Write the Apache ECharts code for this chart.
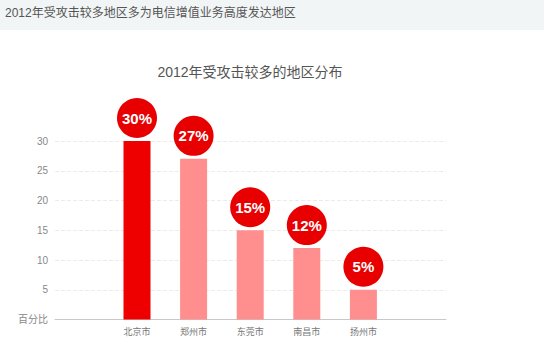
<!DOCTYPE html>
<html>
<head>
<meta charset="utf-8">
<script src="https://cdn.jsdelivr.net/npm/echarts@6/dist/echarts.min.js"></script>
<style>
html,body{margin:0;padding:0;background:#fff;}
#main{width:544px;height:357px;}
</style>
</head>
<body>
<div id="main"></div>
<script>
var headerText = '2012年受攻击较多地区多为电信增值业务高度发达地区';
var chartTitle = '2012年受攻击较多的地区分布';
var categories = ['北京市', '郑州市', '东莞市', '南昌市', '扬州市'];
var values = [30, 27, 15, 12, 5];
var yTicks = [0, 5, 10, 15, 20, 25, 30];
var zeroLabel = '百分比';

var FONT = '"Liberation Sans", "Noto Sans CJK SC", sans-serif';
var chart = echarts.init(document.getElementById('main'), null, {renderer: 'svg'});

var barData = values.map(function (v, i) {
  return {
    value: v,
    itemStyle: {color: i === 0 ? '#ee0000' : '#ff8e8e'}
  };
});

chart.setOption({
  animation: false,
  backgroundColor: '#fff',
  graphic: [
    {type: 'rect', left: 0, top: 0, z: -1,
      shape: {width: 544, height: 30}, style: {fill: '#f2f5f6'}},
    {type: 'text', x: 5, y: 13, z: 10,
      style: {text: headerText, fill: '#555', font: '12px ' + FONT,
        textVerticalAlign: 'middle'}},
    {type: 'text', x: 250, y: 72, z: 10,
      style: {text: chartTitle, fill: '#555', font: '14px ' + FONT,
        textAlign: 'center', textVerticalAlign: 'middle'}}
  ],
  grid: [
    {left: 55, right: 98, top: 141, bottom: 37.5},
    {left: 108.7, right: 152.3, top: 141, bottom: 37.5}
  ],
  xAxis: [
    {type: 'category', gridIndex: 0, data: [''],
      axisLine: {show: true, lineStyle: {color: '#c8c8c8', width: 1}},
      axisTick: {show: false}, axisLabel: {show: false}, splitLine: {show: false}},
    {type: 'category', gridIndex: 1, data: categories,
      axisLine: {show: false}, axisTick: {show: false},
      axisLabel: {color: '#777', fontSize: 9, fontFamily: FONT, margin: 8}}
  ],
  yAxis: [
    {type: 'value', gridIndex: 0, min: 0, max: 30, interval: 5,
      axisLine: {show: false}, axisTick: {show: false},
      axisLabel: {color: '#888', fontSize: 10, fontFamily: FONT, margin: 7,
        formatter: function (v) { return v === yTicks[0] ? zeroLabel : String(v); }},
      splitLine: {show: true, lineStyle: {color: '#ebebeb', type: 'dashed', width: 1}}},
    {type: 'value', gridIndex: 1, min: 0, max: 30, interval: 5, show: false,
      splitLine: {show: false}}
  ],
  series: [
    {type: 'bar', xAxisIndex: 1, yAxisIndex: 1, data: barData, barWidth: 27, z: 2},
    {type: 'scatter', xAxisIndex: 1, yAxisIndex: 1, data: values,
      symbol: 'circle', symbolSize: 40, symbolOffset: [0, -23], z: 5,
      itemStyle: {color: '#e80000', opacity: 1},
      label: {show: true, position: 'inside', color: '#fff', fontSize: 15,
        fontWeight: 'bold', fontFamily: FONT, formatter: '{c}%'}}
  ]
});
</script>
</body>
</html>
